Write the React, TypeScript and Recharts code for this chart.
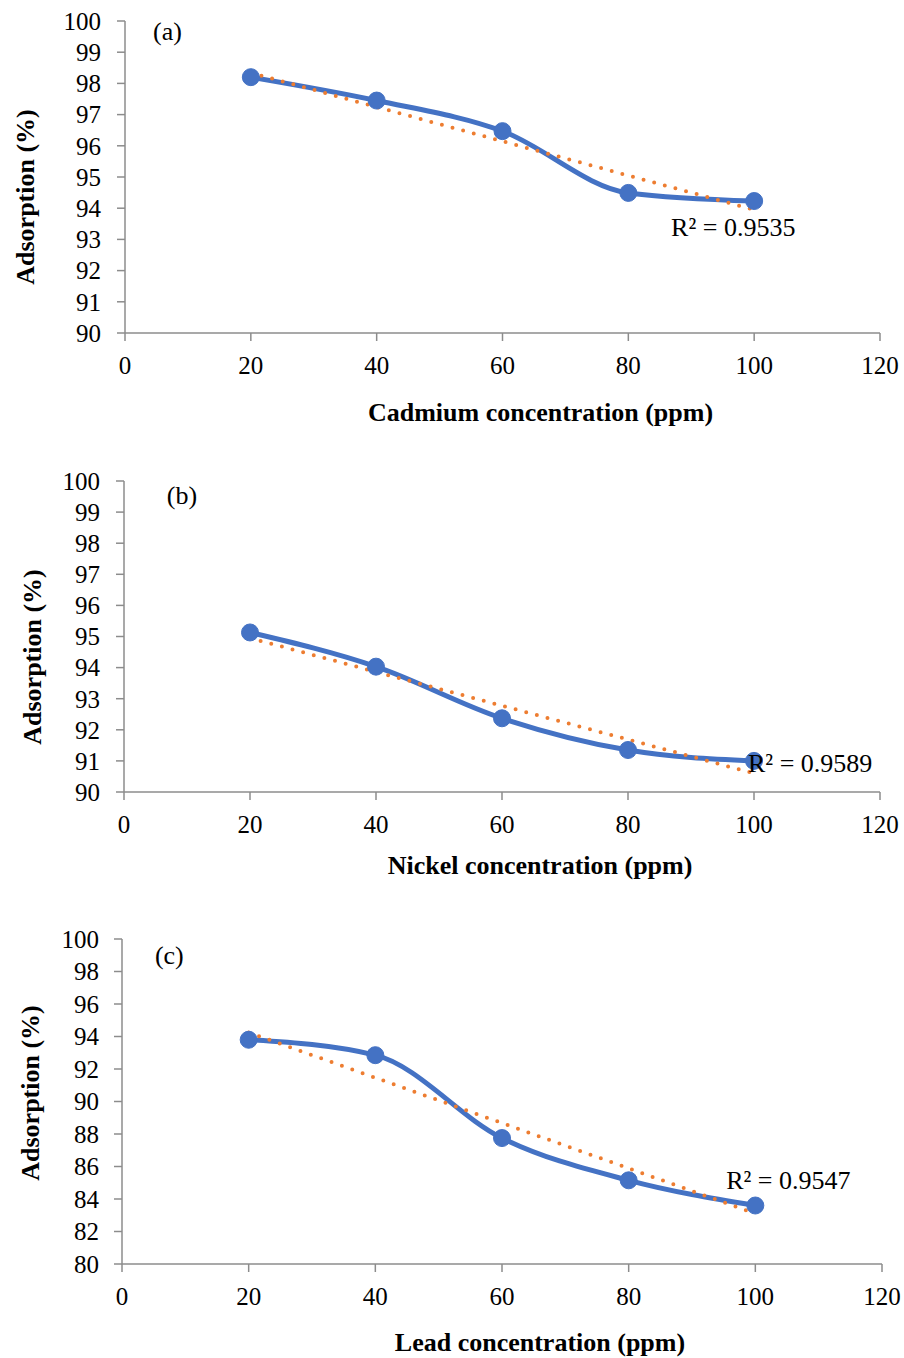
import { LineChart, Line, XAxis, YAxis, ReferenceDot, Label } from 'recharts';

const concentrations = [20, 40, 60, 80, 100];
const cadmium = [98.2, 97.45, 96.47, 94.49, 94.23];
const nickel = [95.13, 94.03, 92.37, 91.35, 91.0];
const lead = [93.8, 92.85, 87.75, 85.15, 83.6];

// linear trendline ends
const trendX = [20, 100];
const cadmiumTrend = [98.34, 93.95];
const nickelTrend = [94.95, 90.6];
const leadTrend = [94.25, 83.1];

const xTicks = [0, 20, 40, 60, 80, 100, 120];
const yTicksFine = [90, 91, 92, 93, 94, 95, 96, 97, 98, 99, 100];
const yTicksLead = [80, 82, 84, 86, 88, 90, 92, 94, 96, 98, 100];

const r2Values = ['R² = 0.9535', 'R² = 0.9589', 'R² = 0.9547'];
const panelTags = ['(a)', '(b)', '(c)'];
const xTitles = ['Cadmium concentration (ppm)', 'Nickel concentration (ppm)', 'Lead concentration (ppm)'];

const font = '"Liberation Serif", "Times New Roman", serif';
const axisGrey = '#8c8c8c';
const blue = '#4472C4';
const orange = '#ED7D31';

const pts = (ys: number[]) => concentrations.map((x, i) => ({ x, y: ys[i] }));
const trendPts = (ys: number[]) => trendX.map((x, i) => ({ x, y: ys[i] }));

type PanelProps = {
  top: number;
  height: number;
  left: number;
  right: number;
  plotHeight: number;
  values: number[];
  trend: number[];
  yTicks: number[];
  tag: string;
  tagAt: [number, number];
  r2: string;
  r2At: [number, number];
  xTitle: string;
  xTitleOffset: number;
  yTitleShift: [number, number];
  yTickMargin: number;
};

const tickStyle = { fontSize: 25, fill: '#000', fontFamily: font };
const titleStyle = { fontSize: 26, fontWeight: 700, fill: '#000', fontFamily: font };

function Panel(p: PanelProps) {
  const xAxisHeight = p.height - 21 - p.plotHeight;
  return (
    <div style={{ position: 'absolute', top: p.top, left: 0, fontFamily: font }}>
      <LineChart
        width={904}
        height={p.height}
        margin={{ top: 21, right: 904 - p.right, bottom: 0, left: 0 }}
        style={{ fontFamily: font }}
      >
        <XAxis
          dataKey="x"
          type="number"
          domain={[0, 120]}
          ticks={xTicks}
          interval={0}
          height={xAxisHeight}
          stroke={axisGrey}
          strokeWidth={1.5}
          tickSize={8}
          tickMargin={15}
          tick={tickStyle}
        >
          <Label value={p.xTitle} position="insideBottom" offset={p.xTitleOffset} dx={38} style={titleStyle} />
        </XAxis>
        <YAxis
          dataKey="y"
          type="number"
          domain={[p.yTicks[0], p.yTicks[p.yTicks.length - 1]]}
          ticks={p.yTicks}
          interval={0}
          width={p.left}
          stroke={axisGrey}
          strokeWidth={1.5}
          tickSize={8}
          tickMargin={p.yTickMargin}
          tick={tickStyle}
        >
          <Label
            value="Adsorption (%)"
            position="center"
            angle={-90}
            dx={p.yTitleShift[0]}
            dy={p.yTitleShift[1]}
            style={titleStyle}
          />
        </YAxis>
        <Line
          data={pts(p.values)}
          dataKey="y"
          type="monotone"
          stroke={blue}
          strokeWidth={5}
          dot={{ r: 8.5, fill: blue, stroke: blue, strokeWidth: 1 }}
          activeDot={false}
          isAnimationActive={false}
        />
        <Line
          data={trendPts(p.trend)}
          dataKey="y"
          type="linear"
          stroke={orange}
          strokeWidth={4}
          strokeDasharray="0 11"
          strokeLinecap="round"
          dot={false}
          activeDot={false}
          isAnimationActive={false}
        />
        <ReferenceDot x={p.tagAt[0]} y={p.tagAt[1]} r={0} fill="none" stroke="none">
          <Label value={p.tag} position="right" offset={0} style={{ fontSize: 26, fill: '#000', fontFamily: font }} />
        </ReferenceDot>
        <ReferenceDot x={p.r2At[0]} y={p.r2At[1]} r={0} fill="none" stroke="none">
          <Label value={p.r2} position="right" offset={0} style={{ fontSize: 26, fill: '#000', fontFamily: font }} />
        </ReferenceDot>
      </LineChart>
    </div>
  );
}

export default function App() {
  return (
    <div style={{ position: 'absolute', left: 0, top: 0, width: 904, height: 1358, background: '#fff', fontFamily: font }}>
      <Panel
        top={0}
        height={433}
        left={125}
        right={880}
        plotHeight={312}
        values={cadmium}
        trend={cadmiumTrend}
        yTicks={yTicksFine}
        tag={panelTags[0]}
        tagAt={[4.45, 99.68]}
        r2={r2Values[0]}
        r2At={[86.8, 93.4]}
        xTitle={xTitles[0]}
        xTitleOffset={12}
        yTitleShift={[-37.5, 20]}
        yTickMargin={16}
      />
      <Panel
        top={460}
        height={422}
        left={124}
        right={880}
        plotHeight={311}
        values={nickel}
        trend={nickelTrend}
        yTicks={yTicksFine}
        tag={panelTags[1]}
        tagAt={[6.8, 99.55]}
        r2={r2Values[1]}
        r2At={[99.05, 90.93]}
        xTitle={xTitles[1]}
        xTitleOffset={8}
        yTitleShift={[-30, 20.5]}
        yTickMargin={16}
      />
      <Panel
        top={918}
        height={440}
        left={122}
        right={882}
        plotHeight={325}
        values={lead}
        trend={leadTrend}
        yTicks={yTicksLead}
        tag={panelTags[2]}
        tagAt={[5.2, 99.0]}
        r2={r2Values[2]}
        r2At={[95.4, 85.17]}
        xTitle={xTitles[2]}
        xTitleOffset={7}
        yTitleShift={[-31, -8.5]}
        yTickMargin={15}
      />
    </div>
  );
}
